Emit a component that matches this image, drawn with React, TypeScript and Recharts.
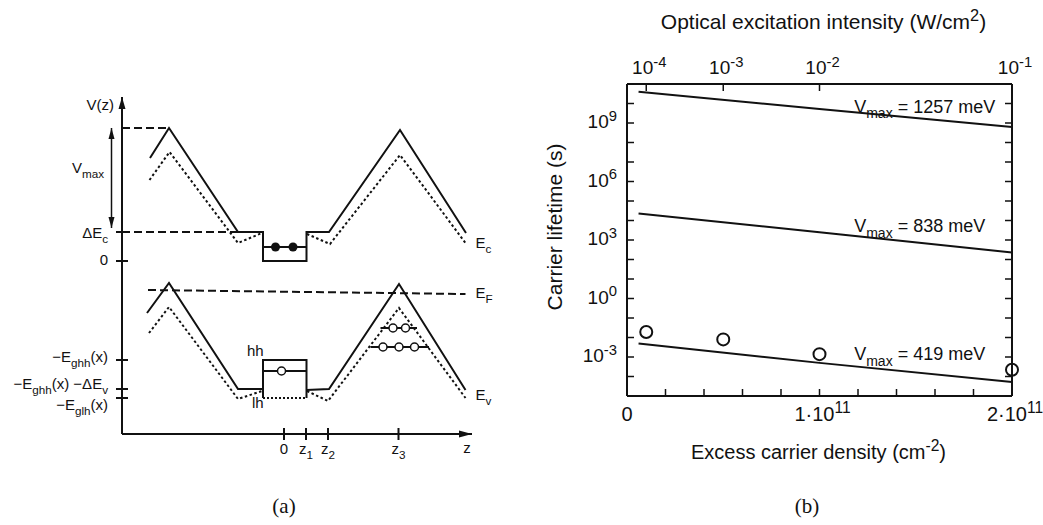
import React from "react";
import {
  ComposedChart,
  Line,
  Scatter,
  XAxis,
  YAxis,
  ReferenceDot,
  ReferenceLine,
} from "recharts";

const SANS = "'Liberation Sans', Arial, Helvetica, sans-serif";
const SERIF = "'Liberation Serif', 'Times New Roman', serif";
const INK = "#111";

// ---------- panel (a): band profile, z and V in arbitrary units ----------
const ecSolid = [
  { z: -13.4, v: 10.3 }, { z: -11.5, v: 13.3 }, { z: -4.6, v: 2.9 }, { z: -2.1, v: 2.9 },
  { z: -2.1, v: 0 }, { z: 2.25, v: 0 }, { z: 2.25, v: 2.9 }, { z: 4.5, v: 2.9 },
  { z: 11.6, v: 13.1 }, { z: 18.2, v: 2.8 },
];
const ecDotted = [
  { z: -13.45, v: 8.1 }, { z: -11.45, v: 10.9 }, { z: -4.6, v: 1.8 }, { z: -2.2, v: 2.8 },
  { z: 0, v: null }, { z: 2.3, v: 2.7 }, { z: 4.6, v: 1.7 }, { z: 11.6, v: 10.6 }, { z: 18.15, v: 1.8 },
];
const electronLevel = [{ z: -2.1, v: 1.4 }, { z: 2.25, v: 1.4 }];
const electrons = [{ z: -0.85, v: 1.4 }, { z: 0.9, v: 1.4 }];
const vmaxLevel = [{ z: -16.2, v: 13.3 }, { z: -11.5, v: 13.3 }];
const dEcLevel = [{ z: -16.2, v: 2.9 }, { z: -4.6, v: 2.9 }];
const fermiLevel = [{ z: -13.6, v: -2.9 }, { z: 18.15, v: -3.3 }];
const evSolid = [
  { z: -13.7, v: -5.2 }, { z: -11.5, v: -2.2 }, { z: -4.6, v: -12.8 }, { z: -2.1, v: -12.8 },
  { z: 0, v: null }, { z: 2.25, v: -12.9 }, { z: 4.5, v: -12.8 }, { z: 11.5, v: -2.3 }, { z: 18.15, v: -12.9 },
];
const evDotted = [
  { z: -13.5, v: -7.2 }, { z: -11.5, v: -4.6 }, { z: -4.6, v: -13.8 }, { z: -2.2, v: -13.0 },
  { z: 0, v: null }, { z: 2.3, v: -13.0 }, { z: 4.4, v: -14.0 }, { z: 11.5, v: -4.7 }, { z: 18.15, v: -13.7 },
];
const hhWell = [{ z: -2.1, v: -13.7 }, { z: -2.1, v: -9.9 }, { z: 2.25, v: -9.9 }, { z: 2.25, v: -13.7 }];
const lhWellFloor = [{ z: -2.1, v: -13.7 }, { z: 2.25, v: -13.7 }];
const hhLevel = [{ z: -2.1, v: -11.0 }, { z: 2.25, v: -11.0 }];
const wellHoles = [{ z: -0.25, v: -11.0 }];
const peakLevelUpper = [{ z: 9.65, v: -6.7 }, { z: 13.3, v: -6.7 }];
const peakLevelLower = [{ z: 8.65, v: -8.6 }, { z: 14.5, v: -8.6 }];
const peakHoles = [
  { z: 10.9, v: -6.7 }, { z: 12.15, v: -6.7 },
  { z: 9.9, v: -8.6 }, { z: 11.5, v: -8.6 }, { z: 13.05, v: -8.6 },
];
const vmaxArrow = { z: -17.25, top: 13.3, bottom: 3.3 };

const zDomain = [-16.2, 18.8];
const vDomain = [-17.3, 16.4];
const zTicks = [0, 2.2, 4.4, 11.45];
const zTickLabels = ["0", "z_{1}", "z_{2}", "z_{3}"];
const vTicks = [2.9, 0, -9.9, -12.8, -13.7];
const vTickLabels = ["ΔE_{c}", "0", "−E_{ghh}(x)", "−E_{ghh}(x) −ΔE_{v}", "−E_{glh}(x)"];
const bandNotes: { z: number; v: number; text: string; anchor: "start" | "end" | "middle" }[] = [
  { z: -17.0, v: 15.1, text: "V(z)", anchor: "end" },
  { z: -18.0, v: 8.8, text: "V_{max}", anchor: "end" },
  { z: 19.15, v: 1.3, text: "E_{c}", anchor: "start" },
  { z: 19.15, v: -3.7, text: "E_{F}", anchor: "start" },
  { z: 19.15, v: -13.9, text: "E_{v}", anchor: "start" },
  { z: -3.7, v: -9.5, text: "hh", anchor: "start" },
  { z: -3.2, v: -14.7, text: "lh", anchor: "start" },
  { z: 18.3, v: -19.2, text: "z", anchor: "middle" },
];

// ---------- panel (b): carrier lifetime vs excess carrier density ----------
const densityTicks = [0, 2e10, 4e10, 6e10, 8e10, 1e11, 1.2e11, 1.4e11, 1.6e11, 1.8e11, 2e11];
const densityTickLabels = ["0", "", "", "", "", "1·10^{11}", "", "", "", "", "2·10^{11}"];
const lifetimeTicks = [1e-5, 1e-4, 1e-3, 1e-2, 1e-1, 1, 10, 100, 1e3, 1e4, 1e5, 1e6, 1e7, 1e8, 1e9, 1e10, 1e11];
const lifetimeLabelled = [1e-3, 1, 1e3, 1e6, 1e9];
const lifetimeLabels = ["10^{-3}", "10^{0}", "10^{3}", "10^{6}", "10^{9}"];
const intensityTickDensity = [1e10, 5e10, 1e11, 2e11];
const intensityTickLabels = ["10^{-4}", "10^{-3}", "10^{-2}", "10^{-1}"];

const curveDensity = [6e9, 1e11, 2e11];
const tau1257 = [4.0e10, 5.2e9, 6.3e8];
const tau838 = [2.3e4, 2.5e3, 2.3e2];
const tau419 = [4.9e-3, 5.0e-4, 5.2e-5];
const measuredDensity = [1e10, 5e10, 1e11, 2e11];
const measuredTau = [1.9e-2, 8e-3, 1.4e-3, 2.2e-4];
const vmaxLabels = ["V_{max} = 1257 meV", "V_{max} = 838 meV", "V_{max} = 419 meV"];
const vmaxLabelDensity = [1.18e11, 1.18e11, 1.18e11];
const vmaxLabelTau = [3.3e9, 2.5e3, 6.8e-4];

const toCurve = (tau: number[]) => curveDensity.map((n, i) => ({ n, tau: tau[i] }));
const measured = measuredDensity.map((n, i) => ({ n, tau: measuredTau[i] }));

// text with _{sub} and ^{sup} pieces
function Rich({
  x, y, text, size, anchor = "start", rotate = 0, family = SANS,
}: {
  x: number; y: number; text: string; size: number;
  anchor?: "start" | "end" | "middle"; rotate?: number; family?: string;
}) {
  const parts: { t: string; k: string }[] = [];
  const re = /([_^])\{([^}]*)\}/g;
  let last = 0;
  let m: RegExpExecArray | null;
  while ((m = re.exec(text)) !== null) {
    if (m.index > last) parts.push({ t: text.slice(last, m.index), k: "" });
    parts.push({ t: m[2], k: m[1] });
    last = re.lastIndex;
  }
  if (last < text.length) parts.push({ t: text.slice(last), k: "" });
  let shift = 0;
  return (
    <text
      x={x}
      y={y}
      textAnchor={anchor}
      fontSize={size}
      fontFamily={family}
      fill={INK}
      transform={rotate ? `rotate(${rotate} ${x} ${y})` : undefined}
    >
      {parts.map((p, i) => {
        const to = p.k === "_" ? size * 0.3 : p.k === "^" ? -size * 0.38 : 0;
        const dy = to - shift;
        shift = to;
        return (
          <tspan key={i} dy={dy} fontSize={p.k ? size * 0.78 : size}>
            {p.t}
          </tspan>
        );
      })}
    </text>
  );
}

const axisStroke = { stroke: INK, strokeWidth: 2 };

function band(key: string, data: any[], dash?: string) {
  return (
    <Line
      key={key}
      data={data}
      dataKey="v"
      stroke={INK}
      strokeWidth={2}
      strokeDasharray={dash}
      dot={false}
      activeDot={false}
      isAnimationActive={false}
    />
  );
}

function note(key: string, x: number, y: number, text: string, size: number, anchor: "start" | "end" | "middle") {
  return (
    <ReferenceDot
      key={key}
      x={x}
      y={y}
      r={0}
      ifOverflow="visible"
      shape={(p: any) => <Rich x={p.cx} y={p.cy} text={text} size={size} anchor={anchor} />}
    />
  );
}

// baseline drop of each V tick label below its tick
const V_LABEL_DROP = [6, 4, 2, 0, 12];

function VTick(props: any) {
  const { x, y, payload } = props;
  const i = vTicks.indexOf(payload.value);
  return (
    <g>
      <line x1={x - 6} x2={x + 6} y1={y} y2={y} stroke={INK} strokeWidth={2} />
      <Rich x={x - 14} y={y + V_LABEL_DROP[i]} text={vTickLabels[i]} size={15} anchor="end" />
    </g>
  );
}

function ZTick(props: any) {
  const { x, y, payload } = props;
  const i = zTicks.indexOf(payload.value);
  return (
    <g>
      <line x1={x} x2={x} y1={y - 6} y2={y + 6} stroke={INK} strokeWidth={2} />
      <Rich x={x} y={y + 20} text={zTickLabels[i]} size={15} anchor="middle" />
    </g>
  );
}

function BandDiagram() {
  return (
    <ComposedChart width={520} height={525} margin={{ top: 97, right: 48, bottom: 61, left: 0 }}>
      <XAxis
        type="number"
        dataKey="z"
        domain={zDomain}
        ticks={zTicks}
        interval={0}
        tick={ZTick}
        tickLine={false}
        tickSize={0}
        tickMargin={0}
        axisLine={axisStroke}
        height={30}
      />
      <YAxis
        type="number"
        domain={vDomain}
        ticks={vTicks}
        interval={0}
        tick={VTick}
        tickLine={false}
        tickSize={0}
        tickMargin={0}
        axisLine={axisStroke}
        width={122}
      />
      {band("vmax", vmaxLevel, "8 4")}
      {band("dec", dEcLevel, "8 4")}
      {band("ef", fermiLevel, "8 4")}
      {band("ecs", ecSolid)}
      {band("ecd", ecDotted, "2.5 2.5")}
      {band("el", electronLevel)}
      {band("evs", evSolid)}
      {band("evd", evDotted, "2.5 2.5")}
      {band("hhw", hhWell)}
      {band("lhf", lhWellFloor, "2 2")}
      {band("hhl", hhLevel)}
      {band("plu", peakLevelUpper)}
      {band("pll", peakLevelLower)}
      <Scatter
        data={electrons}
        dataKey="v"
        isAnimationActive={false}
        shape={(p: any) => <circle cx={p.cx} cy={p.cy} r={4.5} fill={INK} />}
      />
      <Scatter
        data={[...wellHoles, ...peakHoles]}
        dataKey="v"
        isAnimationActive={false}
        shape={(p: any) => <circle cx={p.cx} cy={p.cy} r={4} fill="#fff" stroke={INK} strokeWidth={1.5} />}
      />
      <ReferenceLine
        ifOverflow="visible"
        segment={[
          { x: vmaxArrow.z, y: vmaxArrow.top },
          { x: vmaxArrow.z, y: vmaxArrow.bottom },
        ]}
        shape={(p: any) => (
          <g>
            <line x1={p.x1} y1={p.y1} x2={p.x2} y2={p.y2} stroke={INK} strokeWidth={1.5} />
            <polygon points={`${p.x1},${p.y1} ${p.x1 - 3},${p.y1 + 11} ${p.x1 + 3},${p.y1 + 11}`} fill={INK} />
            <polygon points={`${p.x2},${p.y2} ${p.x2 - 3},${p.y2 - 11} ${p.x2 + 3},${p.y2 - 11}`} fill={INK} />
          </g>
        )}
      />
      <ReferenceDot
        x={zDomain[0]}
        y={vDomain[1]}
        r={0}
        ifOverflow="visible"
        shape={(p: any) => (
          <polygon points={`${p.cx},${p.cy} ${p.cx - 3.5},${p.cy + 12} ${p.cx + 3.5},${p.cy + 12}`} fill={INK} />
        )}
      />
      <ReferenceDot
        x={zDomain[1]}
        y={vDomain[0]}
        r={0}
        ifOverflow="visible"
        shape={(p: any) => (
          <polygon points={`${p.cx},${p.cy} ${p.cx - 13},${p.cy - 3.5} ${p.cx - 13},${p.cy + 3.5}`} fill={INK} />
        )}
      />
      {bandNotes.map((n, i) => note(`n${i}`, n.z, n.v, n.text, 15, n.anchor))}
    </ComposedChart>
  );
}

function DensityTick(props: any) {
  const { x, y, payload } = props;
  const label = densityTickLabels[densityTicks.indexOf(payload.value)];
  return (
    <g>
      <line x1={x} x2={x} y1={y} y2={y - 7} stroke={INK} strokeWidth={1.5} />
      {label ? <Rich x={label === "0" ? x : x + 3} y={y + 25} text={label} size={20} anchor="middle" /> : null}
    </g>
  );
}

function IntensityTick(props: any) {
  const { x, y, payload } = props;
  const label = intensityTickLabels[intensityTickDensity.indexOf(payload.value)];
  return (
    <g>
      <line x1={x} x2={x} y1={y} y2={y + 7} stroke={INK} strokeWidth={1.5} />
      <Rich x={x + 3} y={y - 10} text={label} size={19} anchor="middle" />
    </g>
  );
}

function lifetimeLabel(v: number) {
  const i = lifetimeLabelled.findIndex((t) => Math.abs(Math.log10(t) - Math.log10(v)) < 1e-6);
  return i >= 0 ? lifetimeLabels[i] : "";
}

function LifetimeTick(props: any) {
  const { x, y, payload } = props;
  const label = lifetimeLabel(payload.value);
  return (
    <g>
      <line x1={x} x2={x + 7} y1={y} y2={y} stroke={INK} strokeWidth={1.5} />
      {label ? <Rich x={x - 10} y={y + 5} text={label} size={19} anchor="end" /> : null}
    </g>
  );
}

function RightTick(props: any) {
  const { x, y } = props;
  return <line x1={x - 7} x2={x} y1={y} y2={y} stroke={INK} strokeWidth={1.5} />;
}

function LifetimeChart() {
  const curves = [tau1257, tau838, tau419];
  return (
    <ComposedChart width={523} height={525} margin={{ top: 0, right: 30, bottom: 39, left: 0 }}>
      <XAxis
        type="number"
        dataKey="n"
        domain={[0, 2e11]}
        ticks={densityTicks}
        interval={0}
        tick={DensityTick}
        tickLine={false}
        tickSize={0}
        tickMargin={0}
        axisLine={axisStroke}
        height={90}
        label={{
          content: (p: any) =>
            p.viewBox ? (
              <Rich
                x={p.viewBox.x + p.viewBox.width / 2 - 1}
                y={p.viewBox.y + 63}
                text="Excess carrier density (cm^{-2})"
                size={20}
                anchor="middle"
              />
            ) : null,
        }}
      />
      <XAxis
        xAxisId="top"
        orientation="top"
        type="number"
        dataKey="n"
        domain={[0, 2e11]}
        allowDataOverflow
        ticks={intensityTickDensity}
        interval={0}
        tick={IntensityTick}
        tickLine={false}
        tickSize={0}
        tickMargin={0}
        axisLine={axisStroke}
        height={84}
        label={{
          content: (p: any) =>
            p.viewBox ? (
              <Rich
                x={p.viewBox.x + p.viewBox.width / 2 + 4}
                y={p.viewBox.y + 29}
                text="Optical excitation intensity (W/cm^{2})"
                size={21}
                anchor="middle"
              />
            ) : null,
        }}
      />
      <YAxis
        type="number"
        scale="log"
        domain={[1e-5, 1e11]}
        ticks={lifetimeTicks}
        interval={0}
        tick={LifetimeTick}
        tickLine={false}
        tickSize={0}
        tickMargin={0}
        axisLine={axisStroke}
        width={107}
        label={{
          content: (p: any) =>
            p.viewBox ? (
              <Rich
                x={p.viewBox.x + 42}
                y={p.viewBox.y + p.viewBox.height / 2 - 13}
                text="Carrier lifetime (s)"
                size={21}
                anchor="middle"
                rotate={-90}
              />
            ) : null,
        }}
      />
      <YAxis
        yAxisId="r"
        orientation="right"
        type="number"
        scale="log"
        domain={[1e-5, 1e11]}
        allowDataOverflow
        ticks={lifetimeTicks}
        interval={0}
        tick={RightTick}
        tickLine={false}
        tickSize={0}
        tickMargin={0}
        axisLine={axisStroke}
        width={1}
      />
      {curves.map((tau, i) => (
        <Line
          key={`c${i}`}
          data={toCurve(tau)}
          dataKey="tau"
          stroke={INK}
          strokeWidth={2}
          dot={false}
          activeDot={false}
          isAnimationActive={false}
        />
      ))}
      <Scatter
        data={measured}
        dataKey="tau"
        isAnimationActive={false}
        shape={(p: any) => <circle cx={p.cx} cy={p.cy} r={6} fill="none" stroke={INK} strokeWidth={2} />}
      />
      {vmaxLabels.map((t, i) => note(`v${i}`, vmaxLabelDensity[i], vmaxLabelTau[i], t, 18, "start"))}
    </ComposedChart>
  );
}

export default function App() {
  return (
    <div style={{ position: "absolute", left: 0, top: 0, width: 1043, height: 525, background: "#fff" }}>
      <div style={{ position: "absolute", left: 0, top: 0 }}>
        <BandDiagram />
      </div>
      <div style={{ position: "absolute", left: 520, top: 0 }}>
        <LifetimeChart />
      </div>
      <svg
        width={1043}
        height={525}
        style={{ position: "absolute", left: 0, top: 0, pointerEvents: "none" }}
      >
        <Rich x={284} y={513} text="(a)" size={21} anchor="middle" family={SERIF} />
        <Rich x={807} y={513} text="(b)" size={21} anchor="middle" family={SERIF} />
      </svg>
    </div>
  );
}
